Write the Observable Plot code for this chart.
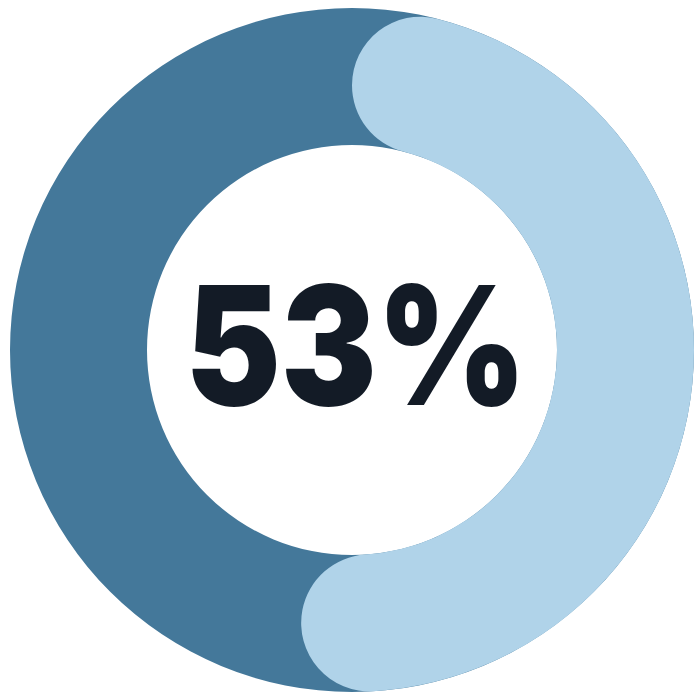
<!DOCTYPE html>
<html>
<head>
<meta charset="utf-8">
<script src="https://cdn.jsdelivr.net/npm/d3@7"></script>
<script src="https://cdn.jsdelivr.net/npm/@observablehq/plot@0.6"></script>
<style>
  html, body { margin: 0; padding: 0; background: #ffffff; }
  #chart { width: 700px; height: 700px; }
</style>
</head>
<body>
<div id="chart"></div>
<script>
// Data
const segments = ["Track", "Filled"];
const shares = [100, 53];
const segmentColors = ["#44789a", "#b0d3e9"];
const centerLabel = ["53%"];

const rows = segments.map((s, i) => ({segment: s, share: shares[i]}));

const outerR = 342;
const innerR = 205;

const arcMark = Plot.dot(rows, {
  x: "share",
  fill: "segment",
  render: (index, scales, values, dimensions) => {
    const cx = (dimensions.marginLeft + dimensions.width - dimensions.marginRight) / 2;
    const cy = (dimensions.marginTop + dimensions.height - dimensions.marginBottom) / 2;
    const g = d3.create("svg:g").attr("transform", `translate(${cx},${cy})`);
    for (const i of index) {
      const isTrack = rows[i].segment === "Track";
      const arc = d3.arc()
        .innerRadius(innerR)
        .outerRadius(outerR)
        .startAngle(0)
        .endAngle(values.x[i])
        .cornerRadius(isTrack ? 0 : (outerR - innerR) / 2);
      g.append("path").attr("d", arc()).attr("fill", values.fill[i]);
    }
    return g.node();
  }
});

const labelMark = Plot.text(centerLabel, {
  text: d => d,
  frameAnchor: "middle",
  fontSize: 165,
  fontWeight: 900,
  fontFamily: "Inter, 'Noto Sans', sans-serif",
  fill: "#131b26",
  dx: 4,
  dy: 2,
  render: (index, scales, values, dimensions, context, next) => {
    const node = next(index, scales, values, dimensions, context);
    const cx = (dimensions.marginLeft + dimensions.width - dimensions.marginRight) / 2;
    const wrap = d3.create("svg:g")
      .attr("transform", `translate(${cx},0) scale(0.87,1) translate(${-cx},0)`);
    wrap.node().appendChild(node);
    return wrap.node();
  }
});

const chart = Plot.plot({
  width: 700,
  height: 700,
  marginTop: 0,
  marginBottom: 0,
  marginLeft: 4,
  marginRight: 0,
  x: {domain: [0, 100], range: [0, 2 * Math.PI], axis: null},
  y: {axis: null},
  color: {domain: segments, range: segmentColors},
  marks: [arcMark, labelMark]
});
document.getElementById("chart").appendChild(chart);
</script>
</body>
</html>
